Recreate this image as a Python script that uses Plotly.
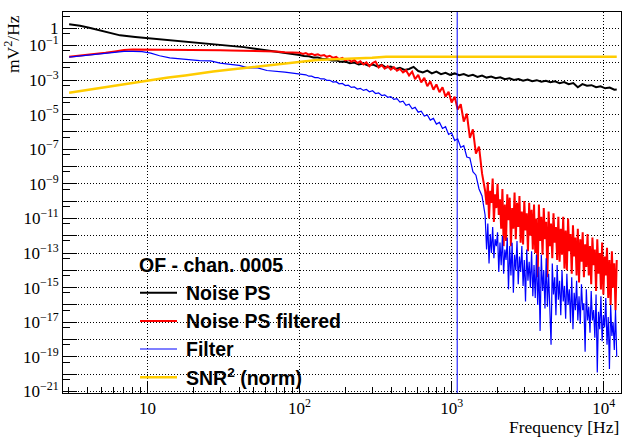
import plotly.graph_objects as go

# ---------------- data (values stored as log10 exponents) -------------
# Noise PS (black)
noise_freq = [3.05, 3.6, 4.2, 4.8, 5.5, 6.6, 8.3, 10.7, 13.7, 17.7, 22, 27, 34, 43, 51, 60, 70, 82,
              100, 107, 115, 123, 132, 141, 151, 162, 174, 186,
              200, 214, 229, 245, 263, 282, 302, 324, 347, 372,
              398, 427, 457, 490, 525, 562, 603, 646, 692, 741,
              794, 851, 912, 977, 1047, 1122, 1202, 1288, 1380, 1479,
              1585, 1698, 1820, 1950, 2089, 2239, 2399, 2570, 2754, 2951,
              3162, 3388, 3631, 3890, 4169, 4467, 4786, 5129, 5495, 5888,
              6310, 6761, 7244, 7762, 8318, 8913, 9550, 10233, 10965, 11749, 12190]
noise_exp = [0.22, 0.14, 0.0, -0.13, -0.28, -0.42, -0.52, -0.61, -0.67, -0.77, -0.85, -0.92, -1.0, -1.10, -1.19, -1.27, -1.35, -1.44,
             -1.55, -1.61, -1.63, -1.70, -1.70, -1.78, -1.78, -1.87, -1.86, -1.95,
             -1.93, -2.03, -1.99, -2.10, -2.05, -2.16, -2.10, -2.22, -2.12, -2.28,
             -2.22, -2.36, -2.30, -2.42, -2.36, -2.24, -2.48, -2.56, -2.46, -2.62,
             -2.52, -2.66, -2.58, -2.70, -2.62, -2.72, -2.66, -2.76, -2.70, -2.82,
             -2.74, -2.86, -2.80, -2.90, -2.84, -2.95, -2.90, -3.00, -2.94, -3.04,
             -2.97, -3.07, -3.01, -3.10, -3.04, -3.13, -3.08, -3.18, -3.12, -3.24,
             -3.18, -3.42, -3.24, -3.33, -3.30, -3.42, -3.36, -3.48, -3.44, -3.56, -3.55]

# frequency grid shared by "Noise PS filtered" and "Filter"
rb_freq = [3.05, 3.5, 4.0, 4.6, 5.3, 6.1, 7.0, 8.0, 9.2, 10.5, 12, 14, 16, 19, 22, 26, 30, 35, 40, 46, 53, 61, 70, 80, 90,
           100, 105, 110, 115, 120, 126, 132, 138, 145, 151, 158, 166, 174, 182, 191, 200, 209, 219, 229, 240,
           251, 263, 275, 288, 302, 316, 331, 347, 363, 380, 398, 417, 437, 457, 479, 501, 525, 550, 575, 603,
           631, 661, 692, 724, 759, 794, 832, 871, 912, 955, 1000, 1047, 1096, 1148, 1202, 1259, 1318, 1380,
           1445, 1514, 1585, 1660,
           1698, 1730, 1762, 1795, 1828, 1862, 1897, 1932, 1968, 2004,
           2042, 2080, 2118, 2158, 2198, 2239, 2280, 2323, 2366, 2410,
           2455, 2500, 2547, 2594, 2642, 2692, 2742, 2793, 2844, 2897,
           2951, 3006, 3062, 3119, 3177, 3236, 3296, 3357, 3420, 3483,
           3548, 3614, 3681, 3750, 3819, 3890, 3963, 4036, 4111, 4188,
           4266, 4345, 4426, 4508, 4592, 4677, 4764, 4853, 4943, 5035,
           5129, 5224, 5321, 5420, 5521, 5623, 5728, 5834, 5943, 6053,
           6166, 6281, 6397, 6516, 6637, 6761, 6887, 7015, 7145, 7278,
           7413, 7551, 7691, 7834, 7980, 8128, 8279, 8433, 8590, 8750,
           8913, 9078, 9247, 9419, 9594, 9772, 9954, 10139, 10328, 10520,
           10715, 10914, 11117, 11324, 11535, 11749, 11967, 12190]

filtered_exp = [-1.66, -1.61, -1.56, -1.50, -1.43, -1.35, -1.27, -1.24, -1.24, -1.24, -1.27, -1.28, -1.28, -1.27, -1.25,
                -1.25, -1.28, -1.29, -1.30, -1.30, -1.32, -1.33, -1.36, -1.39, -1.41,
                -1.42, -1.50, -1.44, -1.53, -1.48, -1.56, -1.52, -1.60, -1.56, -1.66,
                -1.60, -1.72, -1.66, -1.80, -1.72, -1.86, -1.80, -1.95, -1.85, -2.02,
                -1.92, -2.10, -1.98, -2.20, -2.02, -1.94, -2.28, -2.14, -2.34, -2.20,
                -2.40, -2.26, -2.46, -2.36, -2.56, -2.44, -2.74, -2.52, -2.95, -2.70,
                -3.14, -2.88, -3.36, -3.08, -3.56, -3.26, -3.70, -3.42, -3.96, -3.68,
                -4.30, -3.96, -4.70, -4.40, -5.40, -4.95, -6.35, -5.85, -7.25, -6.85,
                -8.40, -9.40,
                -10.2, -8.9, -11.0, -9.4, -10.1, -8.7, -11.2, -9.6, -10.4, -9.0,
                -10.8, -9.9, -11.6, -9.3, -12.6, -10.2, -12.3, -9.6, -11.1, -9.8,
                -12.6, -10.4, -11.6, -9.5, -12.2, -10.1, -11.5, -9.7, -12.4, -10.6,
                -12.5, -10.0, -11.7, -10.7, -12.9, -10.1, -12.0, -10.5, -12.8, -10.2,
                -13.0, -11.0, -14.4, -10.2, -12.3, -10.9, -13.1, -10.4, -12.2, -11.2,
                -14.4, -10.6, -12.6, -11.3, -13.3, -10.7, -12.4, -11.5, -13.4, -10.9,
                -13.5, -11.6, -13.1, -10.9, -13.9, -11.7, -14.0, -11.0, -12.9, -11.9,
                -14.2, -11.4, -13.2, -12.1, -14.3, -11.6, -14.7, -12.2, -13.5, -11.8,
                -14.4, -12.5, -13.8, -11.9, -14.3, -12.6, -14.8, -12.1, -13.7, -12.8,
                -15.2, -12.2, -14.2, -13.0, -15.1, -12.4, -15.4, -13.2, -14.3, -12.7,
                -15.6, -13.4, -16.0, -12.9, -15.0, -13.6, -16.3, -13.4]

filter_exp = [-1.68, -1.62, -1.56, -1.50, -1.44, -1.38, -1.35, -1.35, -1.36, -1.45, -1.60, -1.72, -1.77, -1.82, -1.88,
              -1.90, -2.02, -2.10, -2.16, -2.30, -2.30, -2.45, -2.48, -2.55, -2.60,
              -2.64, -2.70, -2.70, -2.78, -2.78, -2.86, -2.86, -2.94, -2.93, -3.02,
              -3.02, -3.12, -3.10, -3.22, -3.20, -3.32, -3.30, -3.43, -3.40, -3.52,
              -3.48, -3.60, -3.55, -3.68, -3.62, -3.78, -3.74, -3.90, -3.86, -4.00,
              -3.96, -4.12, -4.08, -4.28, -4.22, -4.46, -4.40, -4.66, -4.58, -4.86,
              -4.80, -5.08, -5.02, -5.32, -5.22, -5.55, -5.45, -5.80, -5.70, -6.15,
              -6.05, -6.50, -6.40, -6.90, -6.80, -7.45, -7.50, -8.30, -8.50, -9.30,
              -9.70, -10.80,
              -12.8, -11.3, -13.6, -11.9, -13.0, -11.5, -13.3, -12.2, -12.6, -11.8,
              -14.1, -12.4, -13.7, -12.0, -14.2, -12.8, -13.4, -12.1, -15.1, -12.6,
              -14.3, -12.4, -15.3, -13.1, -14.0, -12.3, -14.8, -13.2, -14.1, -12.6,
              -14.9, -13.4, -15.8, -12.8, -14.6, -13.5, -15.0, -12.9, -15.5, -13.7,
              -15.6, -13.1, -16.0, -13.8, -17.5, -13.1, -15.2, -14.0, -16.2, -13.3,
              -16.1, -14.2, -16.4, -18.3, -13.6, -15.4, -14.4, -16.6, -13.7, -15.7,
              -14.6, -16.6, -14.0, -15.8, -14.9, -16.8, -14.2, -16.0, -15.1, -17.0,
              -14.4, -17.4, -15.3, -16.3, -14.6, -16.9, -15.5, -17.1, -14.8, -16.3,
              -15.9, -18.7, -15.1, -16.9, -16.1, -17.6, -15.2, -16.9, -16.3, -17.9,
              -15.4, -19.9, -16.4, -17.4, -15.5, -18.1, -16.6, -17.3, -15.6, -18.3,
              -16.7, -19.7, -16.0, -17.8, -17.0, -18.6, -16.3, -19.0]

# SNR^2 (norm), yellow
snr_freq = [3.05, 4.0, 5.0, 6.6, 8.3, 10.7, 13.7, 17.7, 22, 27, 34, 43, 51, 62, 78, 100, 130, 170, 240, 300, 370, 12190]
snr_exp = [-3.74, -3.58, -3.45, -3.30, -3.17, -2.98, -2.86, -2.74, -2.60, -2.51, -2.41, -2.31, -2.22, -2.13, -2.02,
           -1.93, -1.84, -1.80, -1.76, -1.72, -1.66, -1.65]

cutoff_freq = 1088  # vertical marker

series_names = ["Noise PS", "Noise PS filtered", "Filter", "SNR<sup>2</sup> (norm)"]
series_colors = ["#000000", "#ff0000", "#0000ff", "#ffcc00"]
series_widths = [2, 2, 1.2, 2.5]
legend_header = "OF - chan. 0005"

x_range_log = [0.444, 4.114]
y_range_log = [-21.09, 0.93]

x_major = [10, 100, 1000, 10000]
x_major_text = ["10", "10<sup>2</sup>", "10<sup>3</sup>", "10<sup>4</sup>"]
x_minor = [m * 10 ** k for k in range(0, 4) for m in range(2, 10) if 2.8 < m * 10 ** k < 13000]

y_decades = list(range(0, -22, -1))
y_labelled = [0, -1] + list(range(-3, -22, -2))


def pw(vals):
    return [10 ** v for v in vals]


def ylabel(k):
    if k not in y_labelled:
        return ""
    if k == 0:
        return "1"
    return "10<sup>\u2212%d</sup>" % (-k)


# ---------------- figure -------------
fig = go.Figure()
data_sets = [(noise_freq, noise_exp), (rb_freq, filtered_exp), (rb_freq, filter_exp), (snr_freq, snr_exp)]
for (fx, fy), nm, col, w in zip(data_sets, series_names, series_colors, series_widths):
    fig.add_trace(go.Scatter(x=fx, y=pw(fy), mode="lines", name=nm,
                             line=dict(color=col, width=w), showlegend=False))

# vertical marker line spanning the full y range
fig.add_trace(go.Scatter(x=[cutoff_freq, cutoff_freq], y=[10 ** y_range_log[0], 10 ** y_range_log[1]],
                         mode="lines", line=dict(color="#0000ff", width=1), showlegend=False))

W, H = 633, 440
ml, mr, mt, mb = 63, 12, 12, 47
pw_w = W - ml - mr
pw_h = H - mt - mb


def px_x(p):
    return (p - ml) / pw_w


def px_y(p):
    return (H - mb - p) / pw_h


axis_common = dict(type="log", showline=True, linecolor="black", linewidth=1, mirror=True,
                   ticks="inside", tickcolor="black", tickwidth=1, automargin=False,
                   showgrid=True, gridcolor="black", gridwidth=1, griddash="1px,2px",
                   zeroline=False,
                   tickfont=dict(family="Liberation Serif", size=17, color="black"))

fig.update_xaxes(range=x_range_log, tickmode="array", tickvals=x_major, ticktext=x_major_text,
                 ticklen=12,
                 minor=dict(tickmode="array", tickvals=x_minor, ticklen=6, ticks="inside",
                            tickcolor="black", showgrid=False),
                 **axis_common)
fig.update_yaxes(range=y_range_log, tickmode="array", tickvals=[10.0 ** k for k in y_decades],
                 ticktext=[ylabel(k) for k in y_decades], ticklen=14,
                 minor=dict(tickmode="array", tickvals=[5 * 10.0 ** k for k in range(-21, 1)],
                            ticklen=7, ticks="inside", tickcolor="black", showgrid=False),
                 **axis_common)

annotations = []
# axis titles
annotations.append(dict(text="Frequency [Hz]", xref="paper", yref="paper", x=px_x(621), y=px_y(427),
                        xanchor="right", yanchor="middle", showarrow=False,
                        font=dict(family="Liberation Serif", size=17.5, color="black")))
annotations.append(dict(text="mV<sup>2</sup>/Hz", xref="paper", yref="paper", x=px_x(12), y=px_y(13),
                        xanchor="center", yanchor="top", textangle=-90, showarrow=False,
                        font=dict(family="Liberation Serif", size=17.5, color="black")))
# legend (drawn by hand, ROOT style)
leg_font = dict(family="Liberation Sans", size=19.5, color="black")
annotations.append(dict(text="<b>%s</b>" % legend_header, xref="paper", yref="paper", x=px_x(136.5), y=px_y(265),
                        xanchor="left", yanchor="middle", showarrow=False, font=leg_font))
row_y = [292.7, 321, 349, 377.3]
shapes = []
for ry, nm, col, w in zip(row_y, series_names, series_colors, series_widths):
    annotations.append(dict(text="<b>%s</b>" % nm, xref="paper", yref="paper", x=px_x(184), y=px_y(ry),
                            xanchor="left", yanchor="middle", showarrow=False, font=leg_font))
    shapes.append(dict(type="line", xref="paper", yref="paper", x0=px_x(140), x1=px_x(177),
                       y0=px_y(ry), y1=px_y(ry), line=dict(color=col, width=w)))

fig.update_layout(width=W, height=H, margin=dict(l=ml, r=mr, t=mt, b=mb, pad=0),
                  paper_bgcolor="white", plot_bgcolor="white",
                  annotations=annotations, shapes=shapes, showlegend=False)

fig.write_html("out.html", config={"displayModeBar": False},
               post_script="document.body.style.margin='0px';document.body.style.overflow='hidden';")
